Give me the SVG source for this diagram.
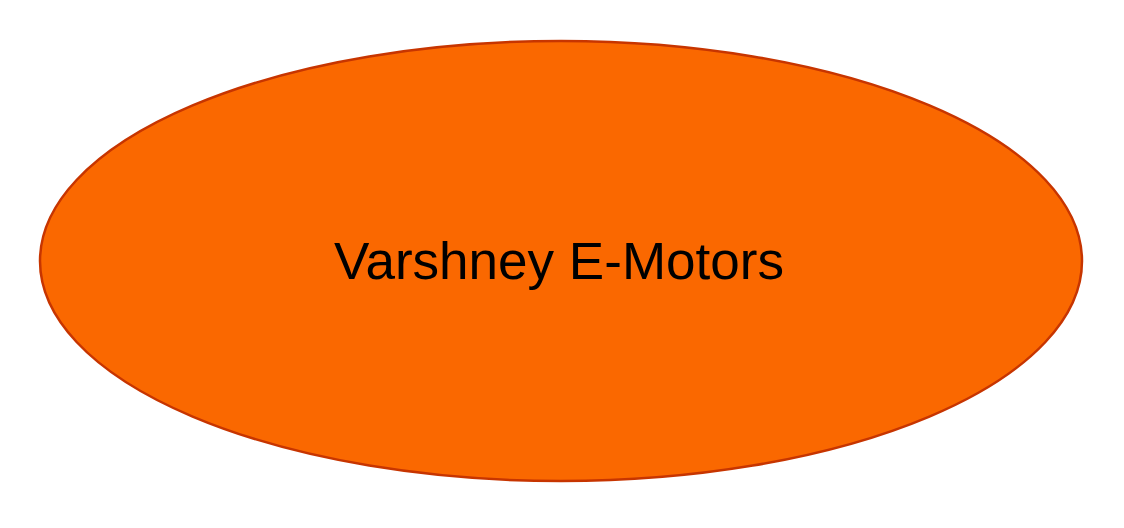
<svg xmlns="http://www.w3.org/2000/svg" width="1124" height="528" viewBox="0 0 1124 528">
<style>
.node ellipse{fill:#FA6800;stroke:#C73500;stroke-width:2.5}
.label{font-family:"Liberation Sans",Arial,sans-serif;font-size:51px;fill:#000;text-anchor:middle}
</style>
<rect width="1124" height="528" fill="#fff"/>
<g id="connectors"></g>
<g id="node-varshney" class="node">
<ellipse cx="561" cy="261" rx="521" ry="220"/>
<text class="label" x="559" y="279" textLength="450" lengthAdjust="spacingAndGlyphs">Varshney E-Motors</text>
</g>
</svg>
